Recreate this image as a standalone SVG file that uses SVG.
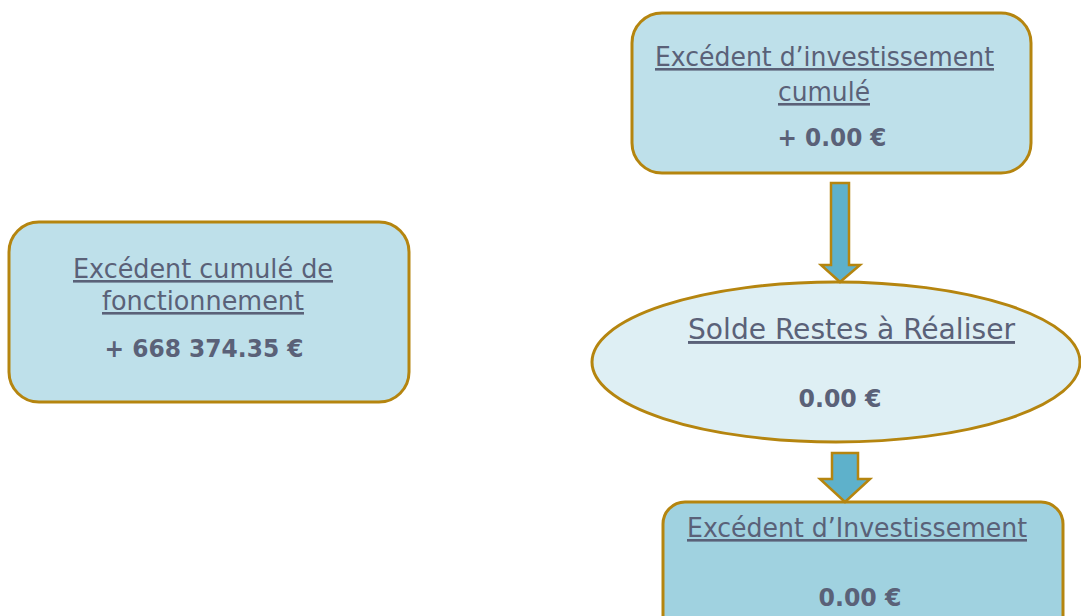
<svg xmlns="http://www.w3.org/2000/svg" width="1081" height="616" viewBox="0 0 1081 616">
<style>
.box{fill:#BEE0EA;stroke:#B5850F;stroke-width:3}
.box2{fill:#A0D2E0;stroke:#B5850F;stroke-width:3}
.ell{fill:#DEEFF4;stroke:#B5850F;stroke-width:3}
.arr{fill:#5EB1CB;stroke:#B5850F;stroke-width:2.5;stroke-linejoin:miter}
text{font-family:"DejaVu Sans Condensed","DejaVu Sans",sans-serif;fill:#5A6178;text-anchor:middle}
.t{font-size:26px;text-decoration:underline}
.v{font-family:"DejaVu Sans",sans-serif;font-size:25px;font-weight:bold}
</style>
<rect width="1081" height="616" fill="#FFFFFF"/>
<g id="node-fonctionnement">
<rect class="box" x="9" y="222" width="400" height="180" rx="30"/>
<text class="t" x="203" y="278" textLength="260" lengthAdjust="spacingAndGlyphs">Excédent cumulé de</text>
<text class="t" x="203" y="310" textLength="202" lengthAdjust="spacingAndGlyphs">fonctionnement</text>
<text class="v" x="204" y="357" textLength="199" lengthAdjust="spacingAndGlyphs">+ 668 374.35 €</text>
</g>
<g id="node-invest-cumule">
<rect class="box" x="632" y="13" width="399" height="160" rx="30"/>
<text class="t" x="824.5" y="66" textLength="339" lengthAdjust="spacingAndGlyphs">Excédent d’investissement</text>
<text class="t" x="824" y="101" textLength="92" lengthAdjust="spacingAndGlyphs">cumulé</text>
<text class="v" x="832" y="146" textLength="109" lengthAdjust="spacingAndGlyphs">+ 0.00 €</text>
</g>
<g id="node-restes">
<ellipse class="ell" cx="836" cy="362" rx="244" ry="80"/>
<text class="t" x="851.5" y="339" style="font-size:29px" textLength="327" lengthAdjust="spacingAndGlyphs">Solde Restes à Réaliser</text>
<text class="v" x="840" y="407" textLength="83" lengthAdjust="spacingAndGlyphs">0.00 €</text>
</g>
<g id="node-invest">
<rect class="box2" x="663" y="502" width="400" height="140" rx="22"/>
<text class="t" x="857" y="537" textLength="340" lengthAdjust="spacingAndGlyphs">Excédent d’Investissement</text>
<text class="v" x="860" y="606" textLength="83" lengthAdjust="spacingAndGlyphs">0.00 €</text>
</g>
<g id="connectors">
<polygon class="arr" points="831,183 849,183 849,265 860,265 840,282 821,265 831,265"/>
<polygon class="arr" points="832,453 858,453 858,479 870,479 845,502 820,479 832,479"/>
</g>
</svg>
